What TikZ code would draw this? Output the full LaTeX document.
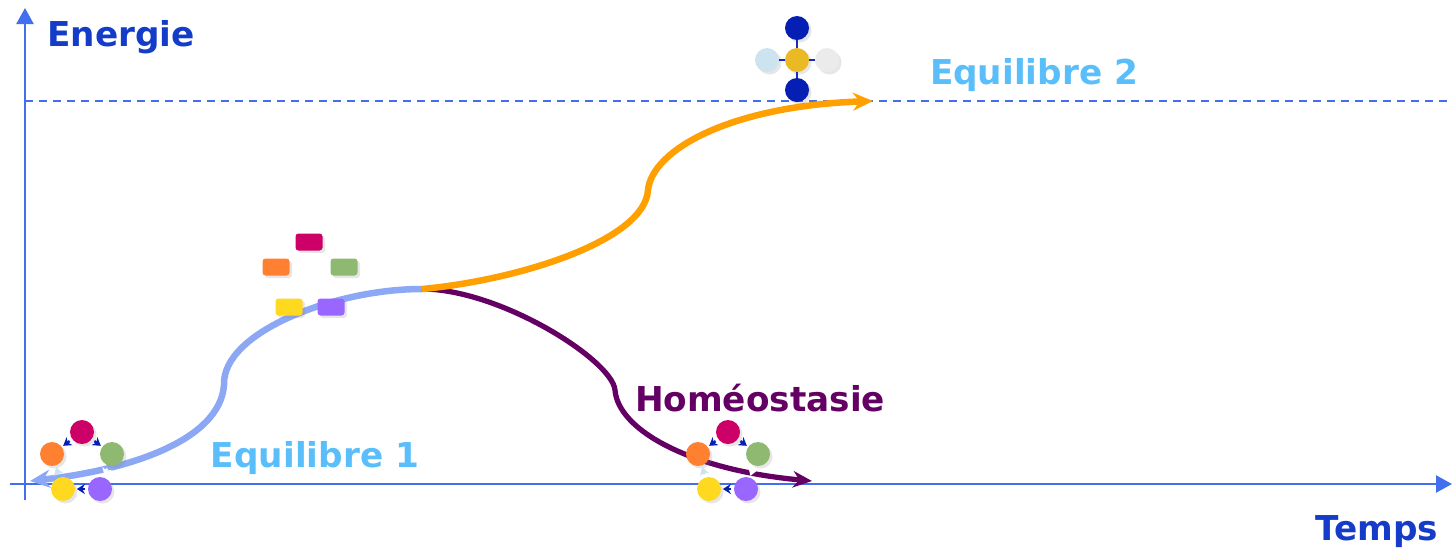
\documentclass[tikz,border=0pt]{standalone}
\usepackage{fontspec}
\setmainfont{DejaVu Sans}
\usetikzlibrary{arrows.meta, shadows}
\definecolor{AxisBlue}{RGB}{66, 110, 240}
\definecolor{TitleBlue}{RGB}{20, 60, 200}
\definecolor{SkyBlue}{RGB}{90, 190, 250}
\definecolor{CurveBlue}{RGB}{140, 168, 245}
\definecolor{CurveOrange}{RGB}{255, 160, 0}
\definecolor{CurvePurple}{RGB}{100, 0, 100}
\definecolor{DotMagenta}{RGB}{204, 0, 102}
\definecolor{DotOrange}{RGB}{255, 128, 48}
\definecolor{DotGreen}{RGB}{143, 184, 112}
\definecolor{DotYellow}{RGB}{255, 216, 32}
\definecolor{DotViolet}{RGB}{153, 102, 255}
\definecolor{AtomBlue}{RGB}{5, 30, 180}
\definecolor{AtomGold}{RGB}{235, 185, 35}
\definecolor{AtomIce}{RGB}{205, 228, 240}
\definecolor{AtomGrey}{RGB}{235, 235, 235}

\tikzset{
  axistext/.style={font=\fontsize{19.5}{22}\selectfont\bfseries, inner sep=0pt},
  ball/.style={circle, minimum size=4.8mm, inner sep=0pt,
    drop shadow={shadow xshift=0.5mm, shadow yshift=-0.5mm, opacity=0.2}},
  tile/.style={rounded corners=0.6mm, minimum width=5.4mm, minimum height=3.4mm, inner sep=0pt,
    drop shadow={shadow xshift=0.5mm, shadow yshift=-0.5mm, opacity=0.2}},
  cycarrow/.style={-{Stealth[length=1.6mm, width=2mm]}, line width=0.5mm, shorten <=0.6mm, shorten >=0.3mm},
  flow/.style={line width=1.3mm, line cap=butt}
}

\begin{document}
\begin{tikzpicture}[x=0.2mm, y=-0.2mm]
    \useasboundingbox (0,0) rectangle (1452,553);

    % axes
    \coordinate (ybot) at (25,500);
    \coordinate (ytop) at (25,8);
    \coordinate (xleft) at (10,484);
    \coordinate (xright) at (1452,484);
    \draw[AxisBlue, line width=0.45mm, -{Triangle[length=3.2mm, width=3.4mm]}] (ybot) -- (ytop);
    \draw[AxisBlue, line width=0.45mm, -{Triangle[length=3.2mm, width=3.4mm]}] (xleft) -- (xright);

    % level of the second equilibrium
    \coordinate (lvlleft) at (25,101);
    \coordinate (lvlright) at (1452,101);
    \draw[AxisBlue, line width=0.35mm, dash pattern=on 1.6mm off 1.2mm] (lvlleft) -- (lvlright);

    \node[axistext, TitleBlue] (energy) at (121,37) {Energie};
    \node[axistext, TitleBlue] (time) at (1377,532) {Temps};
    \node[axistext, SkyBlue] (eqtwo) at (1034,75) {Equilibre 2};
    \node[axistext, SkyBlue] (eqone) at (315,458) {Equilibre 1};
    \node[axistext, CurvePurple] (homeostasis) at (760,398) {Homéostasie};

    % the three paths
    \coordinate (fork) at (422,289);
    \coordinate (backend) at (30,481);
    \coordinate (upend) at (873,101);
    \coordinate (downend) at (812,481);
    \draw[flow, CurveBlue, -{Stealth[length=4mm, width=3.6mm]}]
      (fork) .. controls (335,289) and (222,332) .. (224,385)
             .. controls (220,440) and (130,470) .. (backend);
    \draw[flow, CurvePurple, line width=1.05mm, -{Stealth[length=3.8mm, width=3.3mm]}]
      (fork) .. controls (500,289) and (612,360) .. (615,390)
             .. controls (618,430) and (690,470) .. (downend);
    \draw[flow, CurveOrange, -{Stealth[length=4mm, width=3.6mm]}]
      (fork) .. controls (520,280) and (645,240) .. (648,190)
             .. controls (652,150) and (730,106) .. (upend);

    % separated parts
    \node[tile, fill=DotMagenta] (tm) at (309,242) {};
    \node[tile, fill=DotOrange] (to) at (276,267) {};
    \node[tile, fill=DotGreen] (tg) at (344,267) {};
    \node[tile, fill=DotYellow] (ty) at (289,307) {};
    \node[tile, fill=DotViolet] (tv) at (331,307) {};

    % closed cycles
    \foreach \g/\dx in {p/0, q/646} {
      \node[ball, fill=DotMagenta] (\g m) at ({82+\dx},432) {};
      \node[ball, fill=DotOrange] (\g o) at ({52+\dx},454) {};
      \node[ball, fill=DotGreen] (\g g) at ({112+\dx},454) {};
      \node[ball, fill=DotYellow] (\g y) at ({63+\dx},489) {};
      \node[ball, fill=DotViolet] (\g v) at ({100+\dx},489) {};
      \draw[cycarrow, AtomBlue] (\g m) -- (\g o);
      \draw[cycarrow, AtomBlue] (\g m) -- (\g g);
      \draw[cycarrow, AtomBlue] (\g v) -- (\g y);
      \draw[cycarrow, white] (\g g) -- (\g v);
      \draw[cycarrow, AtomIce] (\g y) -- (\g o);
    }

    % molecule at the top
    \node[ball, fill=AtomGold] (core) at (797,60) {};
    \node[ball, fill=AtomBlue] (atomup) at (797,28) {};
    \node[ball, fill=AtomBlue] (atomdown) at (797,90) {};
    \node[ball, fill=AtomIce] (atomleft) at (767,60) {};
    \node[ball, fill=AtomGrey] (atomright) at (827,60) {};
    \foreach \a in {atomup, atomdown, atomleft, atomright}
      \draw[AtomBlue!80!AxisBlue, line width=0.45mm] (core) -- (\a);
  \end{tikzpicture}
\end{document}
